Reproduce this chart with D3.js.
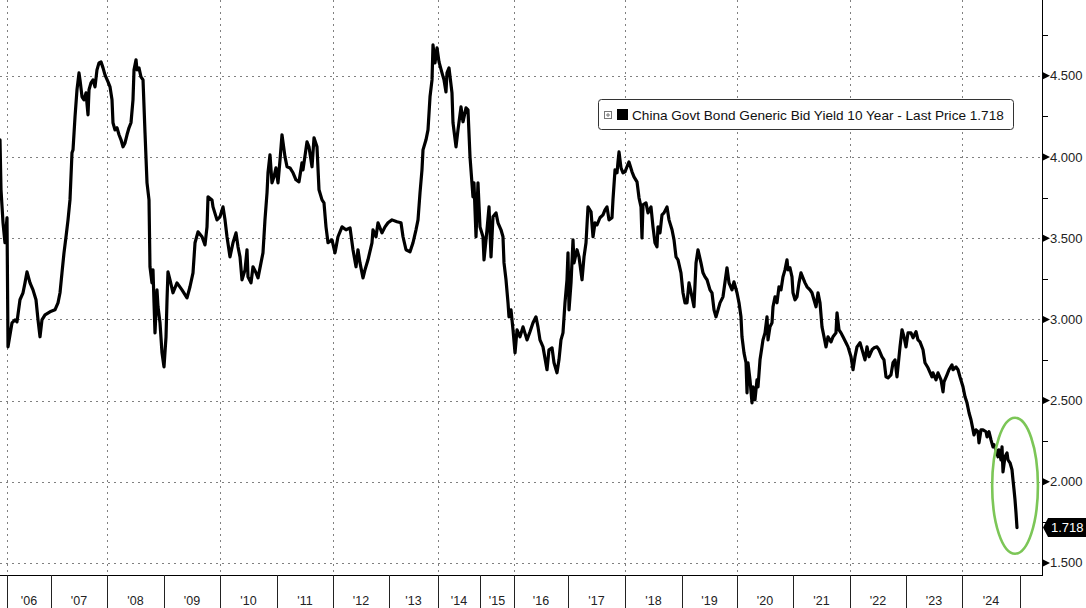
<!DOCTYPE html>
<html><head><meta charset="utf-8">
<script src="https://cdn.jsdelivr.net/npm/d3@7"></script>
<style>
html,body{margin:0;padding:0;background:#fff;}
svg{display:block;}
</style></head>
<body>
<svg id="chart" width="1086" height="608"></svg>
<script>
// ---------- data ----------
const seriesName = "China Govt Bond Generic Bid Yield 10 Year - Last Price 1.718";
const lastPrice = 1.718;
const labelYears = d3.range(2006, 2025);
const yearLabels = ["'06","'07","'08","'09","'10","'11","'12","'13","'14","'15","'16","'17","'18","'19","'20","'21","'22","'23","'24"];
// axis years (Bloomberg trading-session axis: unequal year widths)
const axisYears = d3.range(2005, 2027);
const yearWeights = [56,44,56,57,56,57,56,56,49,42,34,54,57,57,55,56,57,56,56,58,56];
const gridYears = [2006,2008,2010,2012,2014,2016,2018,2020,2022,2024];
const yTicks = [1.5,2.0,2.5,3.0,3.5,4.0,4.5];
const yMinorTicks = [1.75,2.25,2.75,3.25,3.75,4.25,4.75];
const yDomain = [1.426, 4.967];
// highlighted region (green ellipse) in data units
const highlightT = [2024.52, 2025.32];
const highlightV = [1.557, 2.394];

// [decimal year, yield %]
const yield10y = [
[2005.875,4.106],[2005.893,3.798],[2005.929,3.595],[2005.964,3.472],[2006.000,3.626],[2006.023,2.831],
[2006.114,2.979],[2006.182,2.997],[2006.227,2.985],[2006.295,3.121],[2006.364,3.164],[2006.409,3.225],[2006.455,3.293],
[2006.523,3.225],[2006.591,3.182],[2006.659,3.121],[2006.705,2.997],[2006.750,2.893],[2006.795,2.997],[2006.864,3.028],[2006.977,3.047],
[2007.071,3.059],[2007.125,3.102],[2007.161,3.164],[2007.196,3.287],[2007.232,3.410],[2007.268,3.509],[2007.304,3.613],[2007.339,3.736],
[2007.375,4.026],[2007.393,4.044],[2007.429,4.248],[2007.464,4.414],[2007.500,4.518],[2007.518,4.475],[2007.554,4.371],[2007.589,4.352],
[2007.625,4.395],[2007.661,4.260],[2007.679,4.414],[2007.714,4.457],[2007.750,4.475],[2007.786,4.432],[2007.821,4.537],[2007.857,4.580],
[2007.893,4.586],[2007.929,4.549],[2007.964,4.506],
[2008.018,4.463],[2008.053,4.432],[2008.088,4.352],[2008.105,4.211],[2008.140,4.167],[2008.175,4.180],[2008.211,4.137],[2008.246,4.106],
[2008.281,4.063],[2008.316,4.087],[2008.351,4.137],[2008.386,4.180],[2008.421,4.211],[2008.456,4.352],[2008.474,4.537],[2008.509,4.599],
[2008.526,4.537],[2008.561,4.549],[2008.596,4.494],[2008.632,4.475],[2008.667,4.149],[2008.702,3.841],[2008.737,3.736],[2008.754,3.324],
[2008.789,3.225],[2008.807,3.305],[2008.825,3.102],[2008.842,2.917],[2008.877,3.182],[2008.895,3.078],[2008.930,2.979],[2008.965,2.794],
[2009.000,2.708],[2009.036,2.893],[2009.054,3.121],[2009.071,3.293],[2009.107,3.244],[2009.161,3.164],[2009.232,3.225],[2009.321,3.182],
[2009.411,3.133],[2009.464,3.201],[2009.518,3.287],[2009.554,3.472],[2009.607,3.539],[2009.679,3.509],[2009.732,3.459],[2009.768,3.570],
[2009.786,3.755],[2009.857,3.736],[2009.875,3.693],[2009.946,3.613],
[2010.000,3.632],[2010.053,3.693],[2010.088,3.613],[2010.123,3.509],[2010.175,3.385],[2010.228,3.472],[2010.281,3.533],[2010.316,3.447],
[2010.351,3.385],[2010.386,3.244],[2010.439,3.305],[2010.474,3.429],[2010.491,3.262],[2010.544,3.225],[2010.579,3.324],[2010.632,3.287],
[2010.667,3.256],[2010.719,3.348],[2010.754,3.410],[2010.789,3.613],[2010.825,3.780],[2010.842,3.903],[2010.877,4.014],[2010.912,3.841],
[2010.947,3.878],[2010.982,3.933],
[2011.018,3.841],[2011.054,3.983],[2011.089,4.137],[2011.143,4.001],[2011.179,3.940],[2011.232,3.933],[2011.286,3.903],[2011.339,3.860],
[2011.393,3.847],[2011.446,3.964],[2011.464,3.921],[2011.536,4.094],[2011.571,4.063],[2011.625,3.940],[2011.661,4.118],[2011.714,4.063],
[2011.750,3.798],[2011.804,3.736],[2011.839,3.718],[2011.875,3.570],[2011.911,3.472],[2011.982,3.490],
[2012.036,3.410],[2012.089,3.509],[2012.161,3.570],[2012.232,3.552],[2012.304,3.564],[2012.357,3.429],[2012.411,3.324],[2012.446,3.429],
[2012.482,3.348],[2012.536,3.256],[2012.571,3.305],[2012.625,3.367],[2012.696,3.472],[2012.714,3.552],[2012.768,3.509],[2012.804,3.595],
[2012.875,3.533],[2012.929,3.570],[2012.982,3.595],
[2013.061,3.613],[2013.163,3.601],[2013.245,3.595],[2013.286,3.509],[2013.347,3.429],[2013.429,3.416],[2013.490,3.472],[2013.551,3.552],
[2013.592,3.613],[2013.633,3.780],[2013.673,3.921],[2013.694,4.044],[2013.755,4.106],[2013.796,4.167],[2013.837,4.371],[2013.878,4.475],
[2013.898,4.691],[2013.939,4.580],[2013.980,4.672],
[2014.024,4.586],[2014.095,4.518],[2014.143,4.475],[2014.190,4.401],[2014.214,4.518],[2014.262,4.549],[2014.333,4.395],[2014.357,4.211],
[2014.429,4.063],[2014.476,4.167],[2014.548,4.309],[2014.595,4.217],[2014.667,4.303],[2014.714,4.291],[2014.762,4.001],[2014.833,3.755],
[2014.857,3.841],[2014.905,3.509],[2014.952,3.841],
[2015.000,3.570],[2015.088,3.509],[2015.118,3.367],[2015.206,3.552],[2015.265,3.693],[2015.324,3.385],[2015.382,3.632],[2015.471,3.656],
[2015.529,3.595],[2015.618,3.552],[2015.676,3.509],[2015.706,3.348],[2015.765,3.244],[2015.824,3.102],[2015.853,3.016],[2015.912,3.059],
[2015.971,2.936],
[2016.019,2.794],[2016.056,2.936],[2016.111,2.893],[2016.167,2.954],[2016.241,2.874],[2016.296,2.924],[2016.352,2.979],[2016.407,3.016],
[2016.444,2.954],[2016.481,2.874],[2016.537,2.831],[2016.611,2.690],[2016.648,2.813],[2016.704,2.825],[2016.741,2.733],[2016.796,2.671],
[2016.833,2.751],[2016.870,2.874],[2016.907,2.917],[2016.944,3.102],[2016.981,3.244],
[2017.000,3.410],[2017.018,3.059],[2017.053,3.225],[2017.088,3.490],[2017.105,3.348],[2017.158,3.429],[2017.193,3.385],[2017.246,3.244],
[2017.281,3.385],[2017.316,3.472],[2017.351,3.693],[2017.404,3.663],[2017.439,3.509],[2017.474,3.595],[2017.509,3.582],[2017.561,3.626],
[2017.614,3.644],[2017.649,3.675],[2017.684,3.693],[2017.719,3.613],[2017.772,3.626],[2017.789,3.736],[2017.825,3.921],[2017.860,3.903],
[2017.877,3.970],[2017.895,4.032],[2017.930,3.933],[2017.965,3.903],
[2018.000,3.909],[2018.035,3.940],[2018.070,3.970],[2018.123,3.909],[2018.158,3.878],[2018.211,3.847],[2018.246,3.749],[2018.281,3.693],
[2018.298,3.502],[2018.316,3.706],[2018.368,3.718],[2018.404,3.656],[2018.456,3.693],[2018.491,3.570],[2018.526,3.472],[2018.561,3.447],
[2018.579,3.570],[2018.614,3.533],[2018.649,3.644],[2018.684,3.656],[2018.737,3.693],[2018.772,3.613],[2018.825,3.552],[2018.860,3.490],
[2018.895,3.385],[2018.930,3.367],[2018.982,3.287],
[2019.018,3.164],[2019.055,3.102],[2019.091,3.102],[2019.127,3.225],[2019.182,3.139],[2019.218,3.078],[2019.255,3.348],[2019.291,3.429],
[2019.345,3.348],[2019.382,3.287],[2019.418,3.262],[2019.455,3.244],[2019.509,3.182],[2019.545,3.164],[2019.582,3.059],[2019.618,3.016],
[2019.655,3.059],[2019.691,3.102],[2019.745,3.139],[2019.818,3.318],[2019.855,3.225],[2019.909,3.182],[2019.945,3.231],
[2020.000,3.164],[2020.036,3.102],[2020.071,3.016],[2020.089,2.893],[2020.125,2.794],[2020.161,2.733],[2020.179,2.548],[2020.196,2.733],
[2020.232,2.628],[2020.268,2.486],[2020.286,2.585],[2020.321,2.505],[2020.357,2.628],[2020.375,2.585],[2020.411,2.751],[2020.446,2.831],
[2020.464,2.874],[2020.500,2.917],[2020.536,3.016],[2020.554,2.874],[2020.589,2.954],[2020.625,2.979],[2020.643,3.078],[2020.679,3.139],
[2020.714,3.102],[2020.750,3.201],[2020.786,3.182],[2020.821,3.262],[2020.857,3.305],[2020.893,3.367],[2020.911,3.305],[2020.946,3.318],
[2020.982,3.262],
[2021.000,3.164],[2021.035,3.121],[2021.070,3.139],[2021.105,3.225],[2021.140,3.287],[2021.175,3.256],[2021.211,3.225],[2021.246,3.201],
[2021.298,3.182],[2021.333,3.164],[2021.368,3.121],[2021.404,3.078],[2021.439,3.164],[2021.474,3.102],[2021.509,2.954],[2021.544,2.893],
[2021.579,2.831],[2021.614,2.893],[2021.667,2.862],[2021.702,2.893],[2021.754,2.917],[2021.772,3.041],[2021.807,2.936],[2021.842,2.917],
[2021.877,2.893],[2021.930,2.856],[2021.965,2.831],
[2022.018,2.770],[2022.054,2.690],[2022.089,2.770],[2022.125,2.831],[2022.179,2.856],[2022.232,2.794],[2022.268,2.751],[2022.304,2.831],
[2022.339,2.770],[2022.393,2.813],[2022.429,2.825],[2022.482,2.831],[2022.518,2.813],[2022.571,2.770],[2022.607,2.751],[2022.643,2.646],
[2022.679,2.640],[2022.732,2.659],[2022.768,2.733],[2022.804,2.751],[2022.839,2.646],[2022.857,2.708],[2022.893,2.831],[2022.929,2.936],
[2022.964,2.893],
[2023.000,2.831],[2023.036,2.917],[2023.089,2.917],[2023.125,2.887],[2023.179,2.924],[2023.214,2.874],[2023.250,2.862],[2023.304,2.813],
[2023.339,2.733],[2023.393,2.702],[2023.464,2.646],[2023.482,2.671],[2023.536,2.628],[2023.571,2.671],[2023.625,2.628],[2023.661,2.554],
[2023.679,2.616],[2023.732,2.659],[2023.768,2.690],[2023.821,2.720],[2023.839,2.690],[2023.893,2.708],[2023.929,2.690],[2023.964,2.646],
[2024.017,2.585],[2024.052,2.523],[2024.086,2.486],[2024.121,2.425],[2024.155,2.382],[2024.190,2.320],[2024.207,2.289],[2024.241,2.320],
[2024.276,2.308],[2024.293,2.240],[2024.328,2.320],[2024.362,2.320],[2024.414,2.308],[2024.431,2.277],[2024.466,2.308],[2024.500,2.258],
[2024.534,2.215],[2024.552,2.228],[2024.586,2.197],[2024.621,2.154],[2024.638,2.197],[2024.672,2.135],[2024.690,2.215],[2024.707,2.061],
[2024.741,2.154],[2024.776,2.178],[2024.793,2.135],[2024.828,2.117],[2024.862,2.074],[2024.879,2.012],[2024.897,1.951],[2024.914,1.889],
[2024.931,1.810],[2024.948,1.718]
];

// ---------- layout ----------
const W = 1086, H = 608;
const plot = {left: 0, right: 1042, top: 0, bottom: 575};
const originX = -49; // position of start of 2005 on the session axis

const svg = d3.select("#chart");
const cum = [originX];
yearWeights.forEach(w => cum.push(cum[cum.length-1] + w));
const x = d3.scaleLinear().domain(axisYears).range(cum);
const y = d3.scaleLinear().domain(yDomain).range([plot.bottom, plot.top]);

svg.append("rect").attr("width", W).attr("height", H).attr("fill", "#fff");

const defs = svg.append("defs");
defs.append("clipPath").attr("id","clip").append("rect")
  .attr("x", plot.left).attr("y", plot.top)
  .attr("width", plot.right - plot.left).attr("height", plot.bottom - plot.top);

// horizontal grid
svg.append("g").selectAll("line").data(yTicks).join("line")
  .attr("x1", plot.left).attr("x2", plot.right)
  .attr("y1", d => Math.round(y(d)) + 0.5).attr("y2", d => Math.round(y(d)) + 0.5)
  .attr("stroke", "#808080").attr("stroke-width", 1).attr("stroke-dasharray", "2,4");

// vertical grid
svg.append("g").selectAll("line").data(gridYears).join("line")
  .attr("x1", d => Math.round(x(d)) + 0.5).attr("x2", d => Math.round(x(d)) + 0.5)
  .attr("y1", plot.top).attr("y2", plot.bottom)
  .attr("stroke", "#808080").attr("stroke-width", 1).attr("stroke-dasharray", "2,4");

// series line
const line = d3.line().x(d => x(d[0])).y(d => y(d[1])).curve(d3.curveLinear);
svg.append("path").datum(yield10y)
  .attr("clip-path", "url(#clip)")
  .attr("d", line).attr("fill", "none")
  .attr("stroke", "#000").attr("stroke-width", 3.2)
  .attr("stroke-linejoin", "round").attr("stroke-linecap", "round");

// green highlight ellipse
const ex0 = x(highlightT[0]), ex1 = x(highlightT[1]);
const ey0 = y(highlightV[1]), ey1 = y(highlightV[0]);
svg.append("ellipse")
  .attr("cx", (ex0 + ex1) / 2).attr("cy", (ey0 + ey1) / 2)
  .attr("rx", (ex1 - ex0) / 2).attr("ry", (ey1 - ey0) / 2)
  .attr("fill", "none").attr("stroke", "#7cc657").attr("stroke-width", 2.6);

// bottom axis
const bx = svg.append("g");
bx.append("line").attr("x1", 0).attr("x2", plot.right + 0.5)
  .attr("y1", plot.bottom + 0.5).attr("y2", plot.bottom + 0.5)
  .attr("stroke", "#000").attr("stroke-width", 1);
const sepYears = d3.range(2006, 2026);
bx.selectAll("line.sep").data(sepYears).join("line").attr("class","sep")
  .attr("x1", d => Math.round(x(d)) + 0.5).attr("x2", d => Math.round(x(d)) + 0.5)
  .attr("y1", plot.bottom).attr("y2", H)
  .attr("stroke", "#222").attr("stroke-width", 1);
bx.selectAll("text").data(labelYears).join("text")
  .attr("x", d => (x(d) + x(d + 1)) / 2)
  .attr("y", 605)
  .attr("text-anchor", "middle")
  .attr("font-family", "'Liberation Sans', Arial, sans-serif")
  .attr("font-size", 12.5).attr("fill", "#222")
  .text((d, i) => yearLabels[i]);

// right axis
const ry = svg.append("g");
ry.append("line").attr("x1", plot.right + 0.5).attr("x2", plot.right + 0.5)
  .attr("y1", 0).attr("y2", plot.bottom + 1)
  .attr("stroke", "#000").attr("stroke-width", 1);
ry.selectAll("line.minor").data(yMinorTicks).join("line").attr("class","minor")
  .attr("x1", plot.right).attr("x2", plot.right + 6)
  .attr("y1", d => Math.round(y(d)) + 0.5).attr("y2", d => Math.round(y(d)) + 0.5)
  .attr("stroke", "#000").attr("stroke-width", 1);
ry.selectAll("path.tri").data(yTicks).join("path").attr("class","tri")
  .attr("d", d => { const yy = y(d); const x0 = plot.right + 1;
    return `M${x0},${yy-3.5}L${x0+7},${yy}L${x0},${yy+3.5}Z`; })
  .attr("fill", "#000");
ry.selectAll("text").data(yTicks).join("text")
  .attr("x", plot.right + 8).attr("y", d => y(d) + 4.5)
  .attr("font-family", "'Liberation Sans', Arial, sans-serif")
  .attr("font-size", 13).attr("fill", "#222")
  .text(d => d3.format(".3f")(d));

// last price tag
const ly = y(lastPrice);
const tx = plot.right + 1;
svg.append("path")
  .attr("d", `M${tx},${ly}L${tx+5},${ly-9.5}H${W+5}V${ly+9.5}H${tx+5}Z`)
  .attr("fill", "#000");
svg.append("text").attr("x", tx + 8).attr("y", ly + 4.5)
  .attr("font-family", "'Liberation Sans', Arial, sans-serif")
  .attr("font-size", 13).attr("fill", "#fff")
  .text(d3.format(".3f")(lastPrice));

// legend
const lg = svg.append("g");
lg.append("rect").attr("x", 598.5).attr("y", 99.5).attr("width", 415).attr("height", 30)
  .attr("rx", 3).attr("fill", "#fff").attr("stroke", "#333").attr("stroke-width", 1);
lg.append("rect").attr("x", 604.5).attr("y", 111.5).attr("width", 7).attr("height", 7)
  .attr("fill", "#fff").attr("stroke", "#777").attr("stroke-width", 1);
lg.append("path").attr("d", "M606,115H610M608,113V117").attr("stroke", "#777").attr("stroke-width", 1);
lg.append("rect").attr("x", 617).attr("y", 109).attr("width", 11).attr("height", 11).attr("fill", "#000");
lg.append("text").attr("x", 632).attr("y", 120)
  .attr("font-family", "'Liberation Sans', Arial, sans-serif")
  .attr("font-size", 13.6).attr("fill", "#111")
  .text(seriesName);
</script>
</body></html>
